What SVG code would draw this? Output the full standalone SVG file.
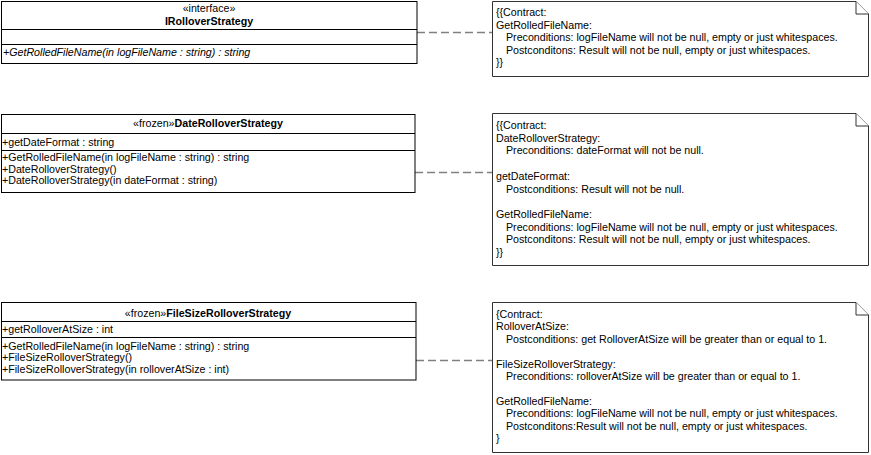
<svg xmlns="http://www.w3.org/2000/svg" width="871" height="455" viewBox="0 0 871 455">
<style>
text{font-family:"Liberation Sans",Arial,sans-serif;font-size:10.67px;fill:#000}
.b{font-weight:bold}
.i{font-style:italic}
.c{text-anchor:middle}
.box{fill:#fff;stroke:#000;stroke-width:1}
.div{stroke:#000;stroke-width:1}
.note{fill:#fff;stroke:#333;stroke-width:1}
.conn{stroke:#808080;stroke-width:1.5;stroke-dasharray:8 4;fill:none}
</style>
<rect width="871" height="455" fill="#fff"/>
<g id="connectors">
<line class="conn" x1="417" y1="32.5" x2="492" y2="32.5"/>
<line class="conn" x1="415" y1="172.5" x2="492" y2="172.5"/>
<line class="conn" x1="416" y1="360.5" x2="492" y2="360.5"/>
</g>
<g id="IRolloverStrategy">
<rect class="box" x="1.5" y="1.5" width="415.5" height="62"/>
<line class="div" x1="1.5" y1="29.5" x2="417" y2="29.5"/>
<line class="div" x1="1.5" y1="44.5" x2="417" y2="44.5"/>
<text class="c" x="209" y="11.5">«interface»</text>
<text class="c b" x="209" y="24.5">IRolloverStrategy</text>
<text class="i" x="3" y="55.5">+GetRolledFileName(in logFileName : string) : string</text>
</g>
<g id="DateRolloverStrategy">
<rect class="box" x="1.5" y="114.5" width="413.5" height="78"/>
<line class="div" x1="1.5" y1="133.5" x2="415" y2="133.5"/>
<line class="div" x1="1.5" y1="150.5" x2="415" y2="150.5"/>
<text class="c" x="208" y="127">«frozen»<tspan class="b">DateRolloverStrategy</tspan></text>
<text x="2" y="145.5">+getDateFormat : string</text>
<text x="2" y="161">+GetRolledFileName(in logFileName : string) : string</text>
<text x="2" y="172.5">+DateRolloverStrategy()</text>
<text x="2" y="184">+DateRolloverStrategy(in dateFormat : string)</text>
</g>
<g id="FileSizeRolloverStrategy">
<rect class="box" x="1.5" y="302.5" width="414.5" height="77.5"/>
<line class="div" x1="1.5" y1="321.5" x2="416" y2="321.5"/>
<line class="div" x1="1.5" y1="337.5" x2="416" y2="337.5"/>
<text class="c" x="208" y="316.5">«frozen»<tspan class="b">FileSizeRolloverStrategy</tspan></text>
<text x="2" y="333">+getRolloverAtSize : int</text>
<text x="2" y="349.5">+GetRolledFileName(in logFileName : string) : string</text>
<text x="2" y="361">+FileSizeRolloverStrategy()</text>
<text x="2" y="372.5">+FileSizeRolloverStrategy(in rolloverAtSize : int)</text>
</g>
<g id="note1">
<path class="note" d="M492.5,1.5 H856 L868.5,14 V76.5 H492.5 Z"/>
<path class="note" d="M856,1.5 V14 H868.5" fill="none"/>
<text x="496" y="16">{{Contract:</text>
<text x="496" y="28.5">GetRolledFileName:</text>
<text x="506" y="41">Preconditions: logFileName will not be null, empty or just whitespaces.</text>
<text x="506" y="53.5">Postconditons: Result will not be null, empty or just whitespaces.</text>
<text x="496" y="66">}}</text>
</g>
<g id="note2">
<path class="note" d="M492.5,113.5 H856 L868.5,126 V265.5 H492.5 Z"/>
<path class="note" d="M856,113.5 V126 H868.5" fill="none"/>
<text x="496" y="129">{{Contract:</text>
<text x="496" y="141.7">DateRolloverStrategy:</text>
<text x="506" y="154.4">Preconditions: dateFormat will not be null.</text>
<text x="496" y="179.8">getDateFormat:</text>
<text x="506" y="192.5">Postconditions: Result will not be null.</text>
<text x="496" y="217.9">GetRolledFileName:</text>
<text x="506" y="230.6">Preconditions: logFileName will not be null, empty or just whitespaces.</text>
<text x="506" y="243.3">Postconditons: Result will not be null, empty or just whitespaces.</text>
<text x="496" y="256">}}</text>
</g>
<g id="note3">
<path class="note" d="M492.5,302.5 H856 L868.5,315 V452.5 H492.5 Z"/>
<path class="note" d="M856,302.5 V315 H868.5" fill="none"/>
<text x="496" y="318">{Contract:</text>
<text x="496" y="330.4">RolloverAtSize:</text>
<text x="506" y="342.8">Postconditions: get RolloverAtSize will be greater than or equal to 1.</text>
<text x="496" y="367.6">FileSizeRolloverStrategy:</text>
<text x="506" y="380">Preconditions: rolloverAtSize will be greater than or equal to 1.</text>
<text x="496" y="404.8">GetRolledFileName:</text>
<text x="506" y="417.2">Preconditions: logFileName will not be null, empty or just whitespaces.</text>
<text x="506" y="429.6">Postconditons:Result will not be null, empty or just whitespaces.</text>
<text x="496" y="442">}</text>
</g>
</svg>
